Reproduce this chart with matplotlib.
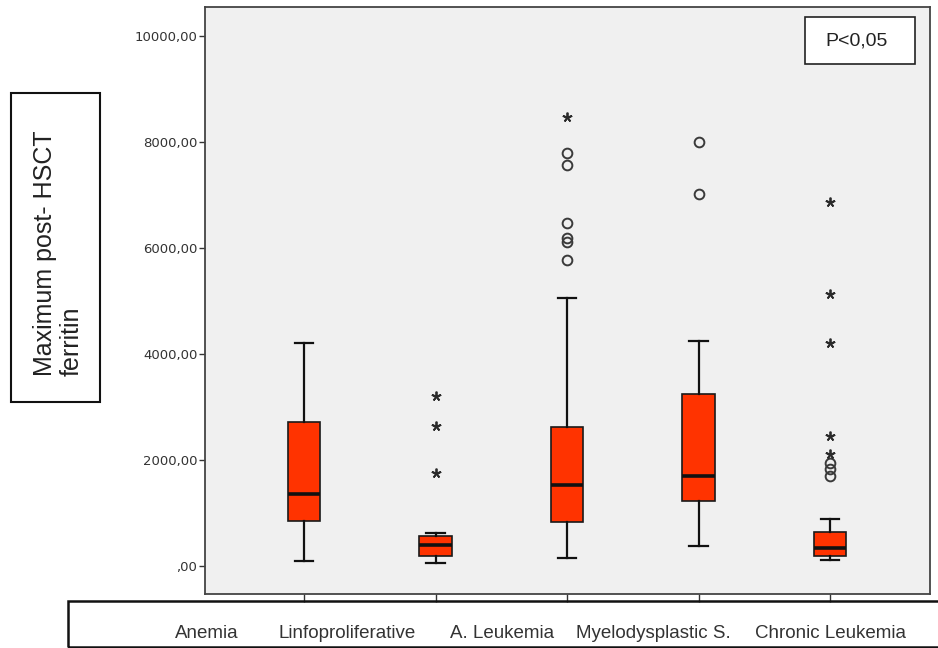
import matplotlib
matplotlib.use("Agg")
import matplotlib.pyplot as plt
from matplotlib.patches import Rectangle

# ---------------- data ----------------
categories = ["Anemia", "Linfoproliferative", "A. Leukemia",
              "Myelodysplastic S.", "Chronic Leukemia"]
q1 = [846, 196, 833, 1218, 189]
median = [1351, 404, 1521, 1692, 335]
q3 = [2714, 574, 2614, 3245, 650]
whisker_low = [89, 57, 158, 385, 114]
whisker_high = [4205, 619, 5057, 4236, 890]
outliers_circle = [[], [], [7797, 7563, 6471, 6193, 6111, 5776],
                   [8005, 7020], [1944, 1831, 1692]]
outliers_star = [[], [3213, 2639, 1748], [8479], [],
                 [6869, 5131, 4217, 2449, 2114]]
y_ticks = [0, 2000, 4000, 6000, 8000, 10000]
y_tick_labels = [",00", "2000,00", "4000,00", "6000,00", "8000,00", "10000,00"]
y_label = "Maximum post- HSCT\nferritin"
p_text = "P<0,05"

# ---------------- layout ----------------
W, H = 938, 648
fig = plt.figure(figsize=(W / 100, H / 100), dpi=100)
fig.patch.set_facecolor("white")
ax = fig.add_axes([205 / W, 1 - 594 / H, 725 / W, 587 / H])
ax.set_facecolor("#F0F0F0")

positions = list(range(1, len(categories) + 1))
stats = []
for i in range(len(categories)):
    stats.append(dict(med=median[i], q1=q1[i], q3=q3[i],
                      whislo=whisker_low[i], whishi=whisker_high[i], fliers=[]))

ax.bxp(stats, positions=positions, widths=0.25, capwidths=0.14,
       showfliers=False, patch_artist=True,
       boxprops=dict(facecolor="#FF3300", edgecolor="#1a1a1a", linewidth=1.2),
       medianprops=dict(color="#111111", linewidth=2.6),
       whiskerprops=dict(color="#111111", linewidth=1.6),
       capprops=dict(color="#111111", linewidth=1.6))

for p, vals in zip(positions, outliers_circle):
    if vals:
        ax.plot([p] * len(vals), vals, linestyle="none", marker="o",
                markersize=7, markerfacecolor="none",
                markeredgecolor="#3a3a3a", markeredgewidth=1.4)
for p, vals in zip(positions, outliers_star):
    if vals:
        ax.plot([p] * len(vals), vals, linestyle="none", marker=(5, 2, 0),
                markersize=7, markeredgecolor="#2a2a2a",
                markerfacecolor="#2a2a2a", markeredgewidth=1.3)

ax.set_xlim(0.247, 5.76)
ax.set_ylim(-528, 10547)
ax.set_xticks(positions)
ax.set_xticklabels([])
ax.set_yticks(y_ticks)
ax.set_yticklabels(y_tick_labels, fontsize=9.5, family="DejaVu Sans", color="#222222")
ax.tick_params(axis="y", direction="out", length=4.5, width=1, colors="#333333", pad=1)
ax.tick_params(axis="x", direction="out", length=6, width=1, colors="#333333")
for s in ax.spines.values():
    s.set_color("#444444")
    s.set_linewidth(1.3)

# bottom category label box
fig.add_artist(Rectangle((68 / W, 1 / H), (W - 60) / W, 46 / H,
                         transform=fig.transFigure, fill=False,
                         edgecolor="#111111", linewidth=1.8, clip_on=False))
label_x = [206.5, 347, 502, 653.5, 830]
for lx, name in zip(label_x, categories):
    fig.text(lx / W, 1 - 633 / H, name, ha="center", va="center",
             fontsize=13.5, family=["Liberation Sans", "DejaVu Sans"], color="#333333")

# y label box
fig.add_artist(Rectangle((11 / W, 1 - 402 / H), 89 / W, 309 / H,
                         transform=fig.transFigure, fill=False,
                         edgecolor="#111111", linewidth=1.5))
fig.text(58 / W, 1 - 253 / H, y_label, rotation=90, ha="center", va="center",
         multialignment="left", fontsize=18, linespacing=1.15,
         family=["Liberation Sans", "DejaVu Sans"], color="#222222")

# p-value box
fig.add_artist(Rectangle((805 / W, 1 - 64 / H), 110 / W, 47 / H,
                         transform=fig.transFigure, facecolor="white",
                         edgecolor="#222222", linewidth=1.2))
fig.text(857 / W, 1 - 41 / H, p_text, ha="center", va="center", fontsize=14,
         family=["Liberation Sans", "DejaVu Sans"], color="#222222")

fig.savefig("out.png", dpi=100)
